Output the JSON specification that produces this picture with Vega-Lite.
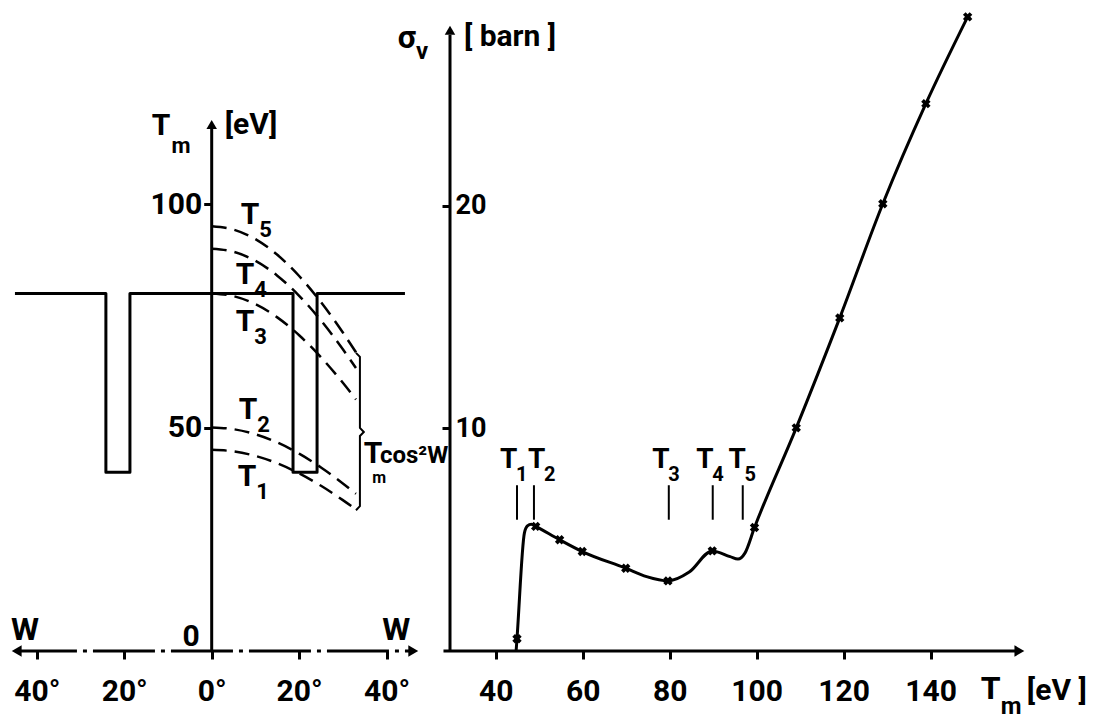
{
  "$schema": "https://vega.github.io/schema/vega-lite/v6.json",
  "background": "white",
  "padding": 0,
  "autosize": {"type": "pad"},
  "spacing": 20,
  "bounds": "flush",
  "config": {
    "view": {"stroke": null},
    "axis": {"grid": false, "domain": false, "labelFont": "Roboto, Liberation Sans, sans-serif", "labelFontWeight": "bold", "labelColor": "black", "tickColor": "black", "tickWidth": 3, "tickSize": 8, "title": null, "labelOverlap": false, "labelFlush": false},
    "text": {"font": "Roboto, Liberation Sans, sans-serif", "fontWeight": "bold", "color": "black"}
  },
  "datasets": {
    "laxisx": [{"a": -45, "b": 46.5, "T": 0}],
    "laxisy": [{"W": 0, "a": 0, "b": 117}],
    "larrows": [{"W": -44.6, "T": 0, "dir": "left"}, {"W": 46.1, "T": 0, "dir": "right"}, {"W": 0, "T": 117.8, "dir": "up"}],
    "well": [{"i": 0, "W": -45, "T": 80}, {"i": 1, "W": -24.2, "T": 80}, {"i": 2, "W": -24.2, "T": 40}, {"i": 3, "W": -18.7, "T": 40}, {"i": 4, "W": -18.7, "T": 80}, {"i": 5, "W": 18.6, "T": 80}, {"i": 6, "W": 18.6, "T": 40}, {"i": 7, "W": 24.1, "T": 40}, {"i": 8, "W": 24.1, "T": 80}, {"i": 9, "W": 44.2, "T": 80}],
    "curves": [
      {"c": "T1", "W": 0, "T": 45}, {"c": "T1", "W": 5, "T": 44.66}, {"c": "T1", "W": 10, "T": 43.64}, {"c": "T1", "W": 15, "T": 41.99}, {"c": "T1", "W": 20, "T": 39.74}, {"c": "T1", "W": 25, "T": 36.96}, {"c": "T1", "W": 30, "T": 33.75}, {"c": "T1", "W": 33, "T": 31.65},
      {"c": "T2", "W": 0, "T": 50}, {"c": "T2", "W": 5, "T": 49.62}, {"c": "T2", "W": 10, "T": 48.49}, {"c": "T2", "W": 15, "T": 46.65}, {"c": "T2", "W": 20, "T": 44.15}, {"c": "T2", "W": 25, "T": 41.07}, {"c": "T2", "W": 30, "T": 37.5}, {"c": "T2", "W": 33, "T": 35.17},
      {"c": "T3", "W": 0, "T": 80}, {"c": "T3", "W": 5, "T": 79.39}, {"c": "T3", "W": 10, "T": 77.59}, {"c": "T3", "W": 15, "T": 74.64}, {"c": "T3", "W": 20, "T": 70.64}, {"c": "T3", "W": 25, "T": 65.71}, {"c": "T3", "W": 30, "T": 60}, {"c": "T3", "W": 33, "T": 56.27},
      {"c": "T4", "W": 0, "T": 90}, {"c": "T4", "W": 5, "T": 89.32}, {"c": "T4", "W": 10, "T": 87.29}, {"c": "T4", "W": 15, "T": 83.97}, {"c": "T4", "W": 20, "T": 79.47}, {"c": "T4", "W": 25, "T": 73.93}, {"c": "T4", "W": 30, "T": 67.5}, {"c": "T4", "W": 33, "T": 63.3},
      {"c": "T5", "W": 0, "T": 95}, {"c": "T5", "W": 5, "T": 94.28}, {"c": "T5", "W": 10, "T": 92.14}, {"c": "T5", "W": 15, "T": 88.64}, {"c": "T5", "W": 20, "T": 83.89}, {"c": "T5", "W": 25, "T": 78.03}, {"c": "T5", "W": 30, "T": 71.25}, {"c": "T5", "W": 33, "T": 66.82}
    ],
    "brace": [{"i": 0, "W": 33.0, "T": 66.7}, {"i": 1, "W": 33.9, "T": 65.8}, {"i": 2, "W": 33.9, "T": 49.9}, {"i": 3, "W": 34.8, "T": 49.0}, {"i": 4, "W": 33.9, "T": 48.1}, {"i": 5, "W": 33.9, "T": 32.4}, {"i": 6, "W": 33.0, "T": 31.5}],
    "ltext": [
      {"W": -11.6, "T": 117.4, "t": "T", "role": "symbol"},
      {"W": -7.0, "T": 113.0, "t": "m", "role": "subscript"},
      {"W": 9.0, "T": 117.7, "t": "[eV]", "role": "unit"},
      {"W": -4.7, "T": 3.1, "t": "0", "role": "symbol"},
      {"W": -42.7, "T": 4.7, "t": "W", "role": "axisname"},
      {"W": 42.2, "T": 4.7, "t": "W", "role": "axisname"},
      {"W": 8.76, "T": 97.5, "t": "T", "role": "symbol"},
      {"W": 7.6, "T": 84.1, "t": "T", "role": "symbol"},
      {"W": 7.6, "T": 73.6, "t": "T", "role": "symbol"},
      {"W": 8.3, "T": 53.9, "t": "T", "role": "symbol"},
      {"W": 8.1, "T": 38.9, "t": "T", "role": "symbol"},
      {"W": 12.3, "T": 94.1, "t": "5", "role": "subscript"},
      {"W": 11.15, "T": 80.7, "t": "4", "role": "subscript"},
      {"W": 11.15, "T": 70.2, "t": "3", "role": "subscript"},
      {"W": 11.85, "T": 50.5, "t": "2", "role": "subscript"},
      {"W": 11.65, "T": 35.5, "t": "1", "role": "subscript"},
      {"W": 36.9, "T": 44.1, "t": "T", "role": "symbol"},
      {"W": 38.3, "T": 38.8, "t": "m", "role": "smallsub"},
      {"W": 46.3, "T": 43.6, "t": "cos²W", "role": "function"}
    ],
    "raxisx": [{"a": 28.0, "b": 160, "S": 0}],
    "raxisy": [{"T": 29.5, "a": 0, "b": 27.7}],
    "rarrows": [{"T": 160.4, "S": 0, "dir": "right"}, {"T": 29.5, "S": 27.9, "dir": "up"}],
    "sigma": [
      {"T": 44.7, "S": 0.0}, {"T": 44.9, "S": 0.55}, {"T": 46.6, "S": 5.3}, {"T": 47.3, "S": 5.62}, {"T": 48.2, "S": 5.7}, {"T": 49.2, "S": 5.6}, {"T": 54.7, "S": 5.0}, {"T": 59.9, "S": 4.47}, {"T": 69.9, "S": 3.72}, {"T": 74.7, "S": 3.34}, {"T": 79.6, "S": 3.15}, {"T": 84.5, "S": 3.55}, {"T": 89.8, "S": 4.5}, {"T": 93.9, "S": 4.24}, {"T": 95.7, "S": 4.13}, {"T": 97.3, "S": 4.4}, {"T": 99.5, "S": 5.55}, {"T": 109.1, "S": 10.03}, {"T": 119.1, "S": 14.97}, {"T": 129.0, "S": 20.1}, {"T": 138.9, "S": 24.6}, {"T": 148.5, "S": 28.5}
    ],
    "pts": [
      {"T": 44.9, "S": 0.55}, {"T": 49.2, "S": 5.6}, {"T": 54.7, "S": 5.0}, {"T": 59.9, "S": 4.47}, {"T": 69.9, "S": 3.72}, {"T": 79.6, "S": 3.15}, {"T": 89.8, "S": 4.5}, {"T": 99.5, "S": 5.55}, {"T": 109.1, "S": 10.03}, {"T": 119.1, "S": 14.97}, {"T": 129.0, "S": 20.1}, {"T": 138.9, "S": 24.6}, {"T": 148.5, "S": 28.5}
    ],
    "tlines": [{"T": 44.9, "a": 5.9, "b": 7.45}, {"T": 48.8, "a": 5.9, "b": 7.45}, {"T": 79.8, "a": 5.9, "b": 7.45}, {"T": 89.9, "a": 5.9, "b": 7.45}, {"T": 96.8, "a": 5.9, "b": 7.45}],
    "rtext": [
      {"T": 19.6, "S": 27.55, "t": "σ", "role": "symbol"},
      {"T": 23.1, "S": 26.9, "t": "v", "role": "subscript"},
      {"T": 43.3, "S": 27.6, "t": "[ barn ]", "role": "unit"},
      {"T": 153.8, "S": -1.71, "t": "T", "role": "symbol"},
      {"T": 158.5, "S": -2.5, "t": "m", "role": "subscript"},
      {"T": 169.0, "S": -1.8, "t": "[eV ]", "role": "unit"},
      {"T": 43.0, "S": 8.58, "t": "T", "role": "label"},
      {"T": 49.4, "S": 8.58, "t": "T", "role": "label"},
      {"T": 78.0, "S": 8.58, "t": "T", "role": "label"},
      {"T": 88.1, "S": 8.58, "t": "T", "role": "label"},
      {"T": 95.5, "S": 8.58, "t": "T", "role": "label"},
      {"T": 46.0, "S": 7.91, "t": "1", "role": "labelsub"},
      {"T": 52.4, "S": 7.91, "t": "2", "role": "labelsub"},
      {"T": 81.0, "S": 7.91, "t": "3", "role": "labelsub"},
      {"T": 91.1, "S": 7.91, "t": "4", "role": "labelsub"},
      {"T": 98.5, "S": 7.91, "t": "5", "role": "labelsub"}
    ]
  },
  "hconcat": [
    {
      "width": 430,
      "height": 719,
      "layer": [
        {
          "data": {"name": "laxisx"},
          "mark": {"type": "rule", "strokeWidth": 3, "strokeDash": [62, 6, 4, 6], "color": "black"},
          "encoding": {
            "x": {"field": "a", "type": "quantitative", "scale": {"domain": [-48.42, 49.93], "zero": false, "nice": false},
                  "axis": {"values": [-40, -20, 0, 20, 40], "labelExpr": "abs(datum.value) + '°'", "offset": -68, "labelFontSize": 30, "labelPadding": 17}},
            "x2": {"field": "b"},
            "y": {"field": "T", "type": "quantitative", "scale": {"domain": [-15.21, 145.64], "zero": false, "nice": false},
                  "axis": {"values": [50, 100], "offset": -211.7, "labelFontSize": 30, "labelPadding": 2, "labelBaseline": "middle"}}
          }
        },
        {
          "data": {"name": "laxisy"},
          "mark": {"type": "rule", "strokeWidth": 3, "color": "black"},
          "encoding": {"x": {"field": "W", "type": "quantitative"}, "y": {"field": "a", "type": "quantitative"}, "y2": {"field": "b"}}
        },
        {
          "data": {"name": "larrows"},
          "transform": [{"filter": "datum.dir === 'left'"}],
          "mark": {"type": "point", "shape": "triangle-left", "filled": true, "size": 130, "color": "black", "opacity": 1},
          "encoding": {"x": {"field": "W", "type": "quantitative"}, "y": {"field": "T", "type": "quantitative"}}
        },
        {
          "data": {"name": "larrows"},
          "transform": [{"filter": "datum.dir === 'right'"}],
          "mark": {"type": "point", "shape": "triangle-right", "filled": true, "size": 130, "color": "black", "opacity": 1},
          "encoding": {"x": {"field": "W", "type": "quantitative"}, "y": {"field": "T", "type": "quantitative"}}
        },
        {
          "data": {"name": "larrows"},
          "transform": [{"filter": "datum.dir === 'up'"}],
          "mark": {"type": "point", "shape": "triangle-up", "filled": true, "size": 110, "color": "black", "opacity": 1},
          "encoding": {"x": {"field": "W", "type": "quantitative"}, "y": {"field": "T", "type": "quantitative"}}
        },
        {
          "data": {"name": "well"},
          "mark": {"type": "line", "strokeWidth": 3, "color": "black", "strokeJoin": "round"},
          "encoding": {"x": {"field": "W", "type": "quantitative"}, "y": {"field": "T", "type": "quantitative"}, "order": {"field": "i"}}
        },
        {
          "data": {"name": "curves"},
          "mark": {"type": "line", "strokeWidth": 2.5, "strokeDash": [15, 8], "color": "black", "interpolate": "monotone"},
          "encoding": {"x": {"field": "W", "type": "quantitative"}, "y": {"field": "T", "type": "quantitative"}, "detail": {"field": "c"}}
        },
        {
          "data": {"name": "brace"},
          "mark": {"type": "line", "strokeWidth": 2, "color": "black"},
          "encoding": {"x": {"field": "W", "type": "quantitative"}, "y": {"field": "T", "type": "quantitative"}, "order": {"field": "i"}}
        },
        {
          "data": {"name": "ltext"},
          "transform": [{"filter": "datum.role === 'symbol'"}],
          "mark": {"type": "text", "fontSize": 30, "align": "center", "baseline": "middle"},
          "encoding": {"x": {"field": "W", "type": "quantitative"}, "y": {"field": "T", "type": "quantitative"}, "text": {"field": "t"}}
        },
        {
          "data": {"name": "ltext"},
          "transform": [{"filter": "datum.role === 'axisname'"}],
          "mark": {"type": "text", "fontSize": 32, "align": "center", "baseline": "middle"},
          "encoding": {"x": {"field": "W", "type": "quantitative"}, "y": {"field": "T", "type": "quantitative"}, "text": {"field": "t"}}
        },
        {
          "data": {"name": "ltext"},
          "transform": [{"filter": "datum.role === 'subscript'"}],
          "mark": {"type": "text", "fontSize": 22, "align": "center", "baseline": "middle"},
          "encoding": {"x": {"field": "W", "type": "quantitative"}, "y": {"field": "T", "type": "quantitative"}, "text": {"field": "t"}}
        },
        {
          "data": {"name": "ltext"},
          "transform": [{"filter": "datum.role === 'smallsub'"}],
          "mark": {"type": "text", "fontSize": 16, "align": "center", "baseline": "middle"},
          "encoding": {"x": {"field": "W", "type": "quantitative"}, "y": {"field": "T", "type": "quantitative"}, "text": {"field": "t"}}
        },
        {
          "data": {"name": "ltext"},
          "transform": [{"filter": "datum.role === 'function'"}],
          "mark": {"type": "text", "fontSize": 24, "align": "center", "baseline": "middle"},
          "encoding": {"x": {"field": "W", "type": "quantitative"}, "y": {"field": "T", "type": "quantitative"}, "text": {"field": "t"}}
        },
        {
          "data": {"name": "ltext"},
          "transform": [{"filter": "datum.role === 'unit'"}],
          "mark": {"type": "text", "fontSize": 30, "align": "center", "baseline": "middle"},
          "encoding": {"x": {"field": "W", "type": "quantitative"}, "y": {"field": "T", "type": "quantitative"}, "text": {"field": "t"}}
        }
      ]
    },
    {
      "width": 649,
      "height": 719,
      "layer": [
        {
          "data": {"name": "raxisx"},
          "mark": {"type": "rule", "strokeWidth": 3, "color": "black"},
          "encoding": {
            "x": {"field": "a", "type": "quantitative", "scale": {"domain": [29.5, 178.7], "zero": false, "nice": false},
                  "axis": {"values": [40, 60, 80, 100, 120, 140], "offset": -68, "labelFontSize": 30, "labelPadding": 17}},
            "x2": {"field": "b"},
            "y": {"field": "S", "type": "quantitative", "scale": {"domain": [-3.056, 29.258], "zero": false, "nice": false},
                  "axis": {"values": [10, 20], "labelFontSize": 27, "labelAlign": "left", "labelPadding": -13, "labelBaseline": "middle"}}
          }
        },
        {
          "data": {"name": "raxisy"},
          "mark": {"type": "rule", "strokeWidth": 3, "color": "black"},
          "encoding": {"x": {"field": "T", "type": "quantitative"}, "y": {"field": "a", "type": "quantitative"}, "y2": {"field": "b"}}
        },
        {
          "data": {"name": "rarrows"},
          "transform": [{"filter": "datum.dir === 'right'"}],
          "mark": {"type": "point", "shape": "triangle-right", "filled": true, "size": 130, "color": "black", "opacity": 1},
          "encoding": {"x": {"field": "T", "type": "quantitative"}, "y": {"field": "S", "type": "quantitative"}}
        },
        {
          "data": {"name": "rarrows"},
          "transform": [{"filter": "datum.dir === 'up'"}],
          "mark": {"type": "point", "shape": "triangle-up", "filled": true, "size": 110, "color": "black", "opacity": 1},
          "encoding": {"x": {"field": "T", "type": "quantitative"}, "y": {"field": "S", "type": "quantitative"}}
        },
        {
          "data": {"name": "sigma"},
          "mark": {"type": "line", "strokeWidth": 3, "color": "black", "interpolate": "monotone"},
          "encoding": {"x": {"field": "T", "type": "quantitative"}, "y": {"field": "S", "type": "quantitative"}}
        },
        {
          "data": {"name": "pts"},
          "mark": {"type": "point", "shape": "cross", "angle": 45, "filled": true, "size": 90, "color": "black", "opacity": 1},
          "encoding": {"x": {"field": "T", "type": "quantitative"}, "y": {"field": "S", "type": "quantitative"}}
        },
        {
          "data": {"name": "tlines"},
          "mark": {"type": "rule", "strokeWidth": 2, "color": "black"},
          "encoding": {"x": {"field": "T", "type": "quantitative"}, "y": {"field": "a", "type": "quantitative"}, "y2": {"field": "b"}}
        },
        {
          "data": {"name": "rtext"},
          "transform": [{"filter": "datum.role === 'symbol'"}],
          "mark": {"type": "text", "fontSize": 32, "align": "center", "baseline": "middle"},
          "encoding": {"x": {"field": "T", "type": "quantitative"}, "y": {"field": "S", "type": "quantitative"}, "text": {"field": "t"}}
        },
        {
          "data": {"name": "rtext"},
          "transform": [{"filter": "datum.role === 'label'"}],
          "mark": {"type": "text", "fontSize": 28, "align": "center", "baseline": "middle"},
          "encoding": {"x": {"field": "T", "type": "quantitative"}, "y": {"field": "S", "type": "quantitative"}, "text": {"field": "t"}}
        },
        {
          "data": {"name": "rtext"},
          "transform": [{"filter": "datum.role === 'subscript'"}],
          "mark": {"type": "text", "fontSize": 24, "align": "center", "baseline": "middle"},
          "encoding": {"x": {"field": "T", "type": "quantitative"}, "y": {"field": "S", "type": "quantitative"}, "text": {"field": "t"}}
        },
        {
          "data": {"name": "rtext"},
          "transform": [{"filter": "datum.role === 'labelsub'"}],
          "mark": {"type": "text", "fontSize": 20, "align": "center", "baseline": "middle"},
          "encoding": {"x": {"field": "T", "type": "quantitative"}, "y": {"field": "S", "type": "quantitative"}, "text": {"field": "t"}}
        },
        {
          "data": {"name": "rtext"},
          "transform": [{"filter": "datum.role === 'unit'"}],
          "mark": {"type": "text", "fontSize": 30, "align": "center", "baseline": "middle"},
          "encoding": {"x": {"field": "T", "type": "quantitative"}, "y": {"field": "S", "type": "quantitative"}, "text": {"field": "t"}}
        }
      ]
    }
  ]
}
